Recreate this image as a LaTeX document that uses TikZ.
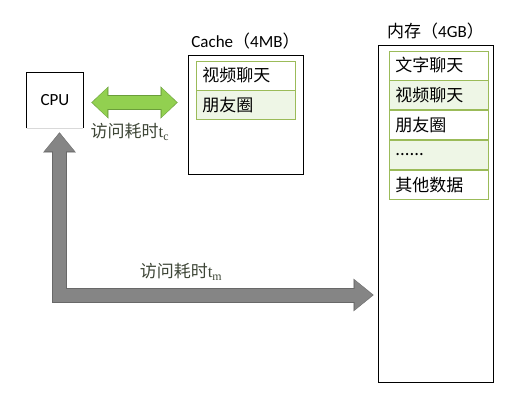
\documentclass[tikz,border=0pt]{standalone}
\usepackage{fontspec}
\setmainfont{Carlito}
\newfontfamily\cjk{Noto Sans CJK SC}
\newfontfamily\tfont{Liberation Serif}
\usetikzlibrary{positioning}
\usetikzlibrary{arrows.meta}
\definecolor{cellgreen}{HTML}{9BBB59}
\definecolor{cellfill}{HTML}{EEF6E6}
\definecolor{arrowgreen}{HTML}{92D050}
\definecolor{greenrim}{HTML}{6A9E3A}
\definecolor{arrowgray}{HTML}{858585}
\definecolor{grayrim}{HTML}{686868}
\definecolor{labeltext}{HTML}{3E4637}

\begin{document}
\begin{tikzpicture}
		[x=1pt, y=-1pt, font=\fontsize{17}{19}\selectfont,
		box/.style={rectangle, draw=black, line width=0.9pt, inner sep=0pt},
		cell/.style={rectangle, draw=cellgreen, line width=0.8pt, inner sep=0pt,
			minimum width=99pt, minimum height=29pt, text width=86pt, align=left,
			font=\fontsize{17}{19}\selectfont\cjk},
		lightcell/.style={cell, fill=cellfill},
		title/.style={inner sep=0pt},
		timelabel/.style={inner sep=0pt, text=labeltext},
		greenrimline/.style={greenrim, line width=15pt,
			{Triangle[width=32pt,length=17pt,line width=0.1pt]}-{Triangle[width=32pt,length=17pt,line width=0.1pt]}},
		greenbody/.style={arrowgreen, line width=13pt,
			{Triangle[width=29pt,length=15pt,line width=0.1pt]}-{Triangle[width=29pt,length=15pt,line width=0.1pt]}},
		grayrimline/.style={grayrim, line width=15pt,
			{Triangle[width=32.5pt,length=20pt,line width=0.1pt]}-{Triangle[width=32.5pt,length=20pt,line width=0.1pt]}},
		graybody/.style={arrowgray, line width=13pt,
			{Triangle[width=30pt,length=18pt,line width=0.1pt]}-{Triangle[width=30pt,length=18pt,line width=0.1pt]}}]
		\useasboundingbox (0,0) rectangle (517,405);

		\node[box, draw=none, minimum width=56pt, minimum height=55pt] (cpu) at (55,100.5) {CPU};
		\draw[line width=0.9pt] (cpu.south west) |- (cpu.north east) -- (cpu.south east);
		\draw[line width=0.6pt, black!15] (cpu.south west) -- (cpu.south east);

		\node[box, minimum width=115pt, minimum height=119pt] (cache) at (245.5,114.5) {};
		\node[title, above=5pt of cache] (cachetitle) {Cache{\cjk（}4MB{\cjk）}};
		\node[cell, below right=6pt and 8pt of cache.north west] (c1) {视频聊天};
		\node[lightcell, below=0pt of c1] (c2) {朋友圈};

		\node[box, minimum width=115pt, minimum height=337pt] (mem) at (435.5,213.5) {};
		\node[title, above=5pt of mem] (memtitle) {{\cjk 内存（}4GB{\cjk）}};
		\node[cell, below right=6pt and 11pt of mem.north west] (m1) {文字聊天};
		\node[lightcell, below=0pt of m1] (m2) {视频聊天};
		\node[cell, below=0pt of m2] (m3) {朋友圈};
		\node[lightcell, below=0pt of m3] (m4) {......};
		\node[cell, below=0pt of m4] (m5) {其他数据};

		\coordinate (bend) at (59.5,295);
		\coordinate (gy) at (0,102.5);

		\draw[greenrimline, shorten <=8pt, shorten >=10pt] (cpu.east |- gy) -- (cache.west |- gy);
		\draw[greenbody, shorten <=9pt, shorten >=11pt] (cpu.east |- gy) -- (cache.west |- gy);
		\node[timelabel] (tc) at (130,132) {{\cjk 访问耗时}{\tfont t\textsubscript{c}}};

		\draw[grayrimline, shorten <=4pt, shorten >=4pt] (cpu.south -| bend) -- (bend) -- (bend -| mem.west);
		\draw[graybody, shorten <=5pt, shorten >=5pt] (cpu.south -| bend) -- (bend) -- (bend -| mem.west);
		\node[timelabel] (tm) at (181,272) {{\cjk 访问耗时}{\tfont t\textsubscript{m}}};
	\end{tikzpicture}
\end{document}
